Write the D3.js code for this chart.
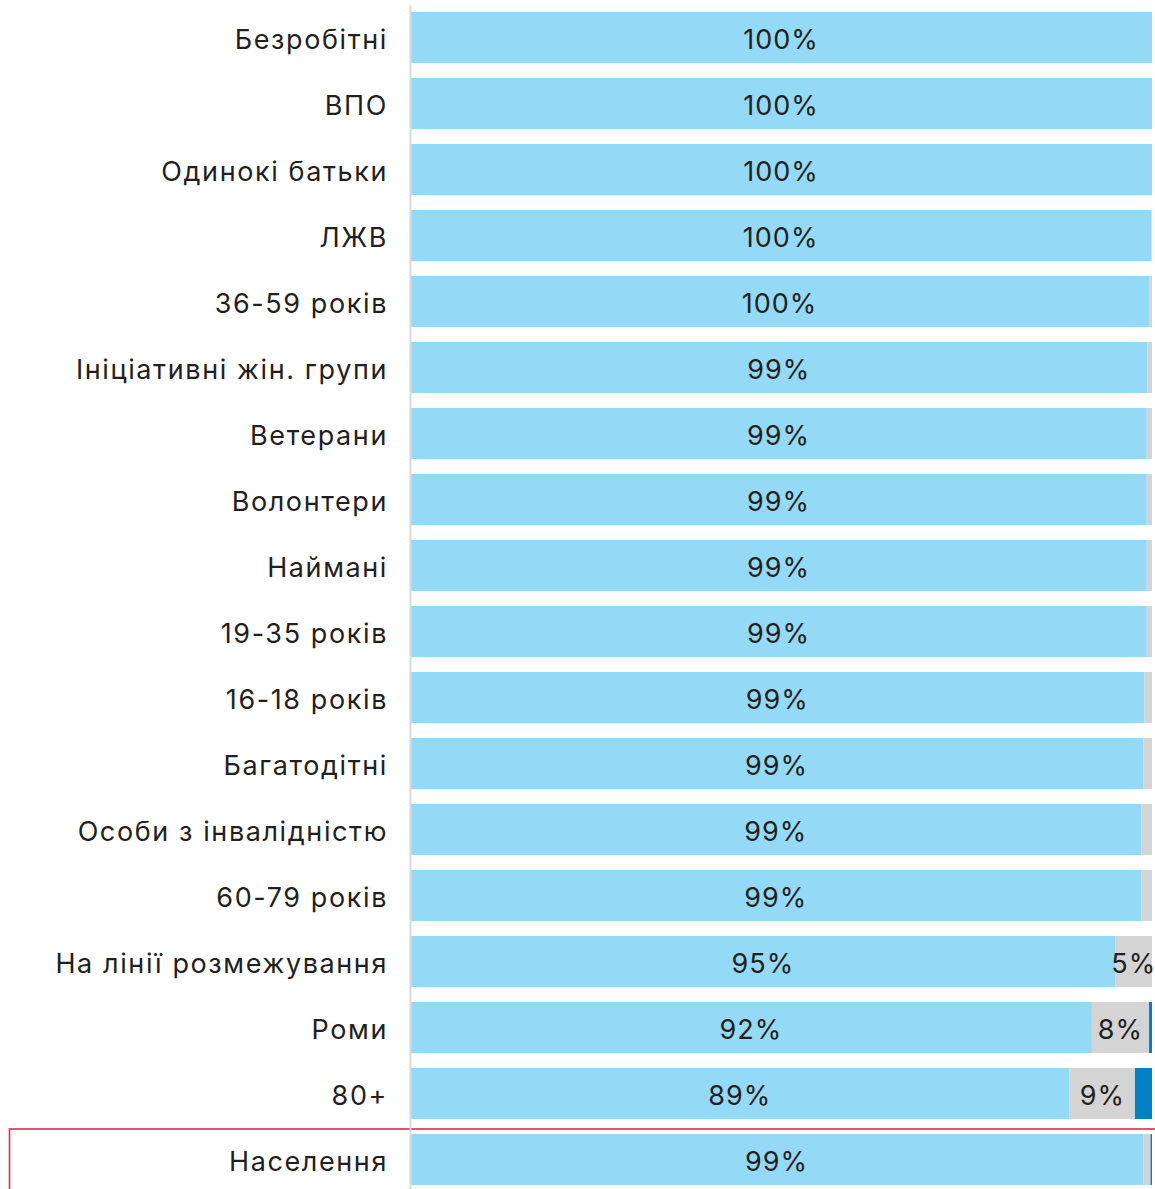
<!DOCTYPE html>
<html>
<head>
<meta charset="utf-8">
<script src="https://cdn.jsdelivr.net/npm/d3@7"></script>
<style>
  body { margin: 0; background: #fff; }
  svg text { font-family: Inter, "Noto Sans", sans-serif; fill: #231f20; }
</style>
</head>
<body>
<div id="chart"></div>
<script>
var categories = ["Безробітні", "ВПО", "Одинокі батьки", "ЛЖВ", "36-59 років",
  "Ініціативні жін. групи", "Ветерани", "Волонтери", "Наймані", "19-35 років",
  "16-18 років", "Багатодітні", "Особи з інвалідністю", "60-79 років",
  "На лінії розмежування", "Роми", "80+", "Населення"];
var yesValues   = [100, 100, 100, 99.9, 99.6, 99.4, 99.3, 99.3, 99.3, 99.3, 99.0, 98.8, 98.6, 98.6, 95.1, 91.9, 88.9, 98.8];
var noValues    = [0, 0, 0, 0.1, 0.4, 0.6, 0.7, 0.7, 0.7, 0.7, 1.0, 1.2, 1.4, 1.4, 4.9, 7.7, 8.8, 1.0];
var otherValues = [0, 0, 0, 0, 0, 0, 0, 0, 0, 0, 0, 0, 0, 0, 0, 0.4, 2.3, 0.2];
var seriesKeys = ["yes", "no", "other"];
var seriesColors = ["#94d9f6", "#d4d4d4", "#0080c6"];
var highlighted = "Населення";

var width = 1155, height = 1189,
    margin = {left: 410, right: 3};

var rows = categories.map(function(c, i) {
  return {name: c, yes: yesValues[i], no: noValues[i], other: otherValues[i]};
});

var svg = d3.select("#chart").append("svg")
    .attr("width", width)
    .attr("height", height);

var x = d3.scaleLinear()
    .domain([0, 100])
    .range([margin.left, width - margin.right]);

var y = d3.scaleBand()
    .domain(categories)
    .range([4.5, 4.5 + 66 * categories.length])
    .paddingInner(15 / 66)
    .paddingOuter(7.5 / 66);

var stack = d3.stack().keys(seriesKeys);
var layers = stack(rows);

var layer = svg.selectAll("g.layer")
  .data(layers)
  .enter().append("g")
    .attr("class", "layer")
    .attr("fill", function(d, i) { return seriesColors[i]; });

layer.selectAll("rect")
  .data(function(d) { return d; })
  .enter().append("rect")
    .attr("x", function(d) { return x(d[0]); })
    .attr("y", function(d) { return y(d.data.name); })
    .attr("width", function(d) { return Math.max(0, x(d[1]) - x(d[0])); })
    .attr("height", y.bandwidth());

// value labels: main series always, second series only when wide enough
layer.filter(function(d, i) { return i < 2; })
  .selectAll("text")
  .data(function(d) { return d.filter(function(s) { return s[1] - s[0] >= 4.5; }); })
  .enter().append("text")
    .attr("x", function(d) { return (x(d[0]) + x(d[1])) / 2; })
    .attr("y", function(d) { return y(d.data.name) + y.bandwidth() / 2; })
    .attr("dy", "0.42em")
    .attr("text-anchor", "middle")
    .style("font-size", "27px")
    .style("letter-spacing", "1px")
    .text(function(d) { return Math.round(d[1] - d[0]) + "%"; });

// highlight box round the total row
svg.append("rect")
    .attr("x", 9.5)
    .attr("y", y(highlighted) - 5)
    .attr("width", width)
    .attr("height", 100)
    .attr("fill", "none")
    .attr("stroke", "#e0294a")
    .attr("stroke-width", 1.6);

var axis = svg.append("g")
    .attr("transform", "translate(" + margin.left + ",0)")
    .call(d3.axisLeft(y).tickSize(0).tickPadding(22));

axis.select(".domain")
    .attr("stroke", "#d9d9d9")
    .attr("stroke-width", 2);

axis.selectAll("text")
    .attr("dy", "0.42em")
    .style("font-size", "27px")
    .style("letter-spacing", "1.6px")
    .style("fill", "#231f20");
</script>
</body>
</html>
